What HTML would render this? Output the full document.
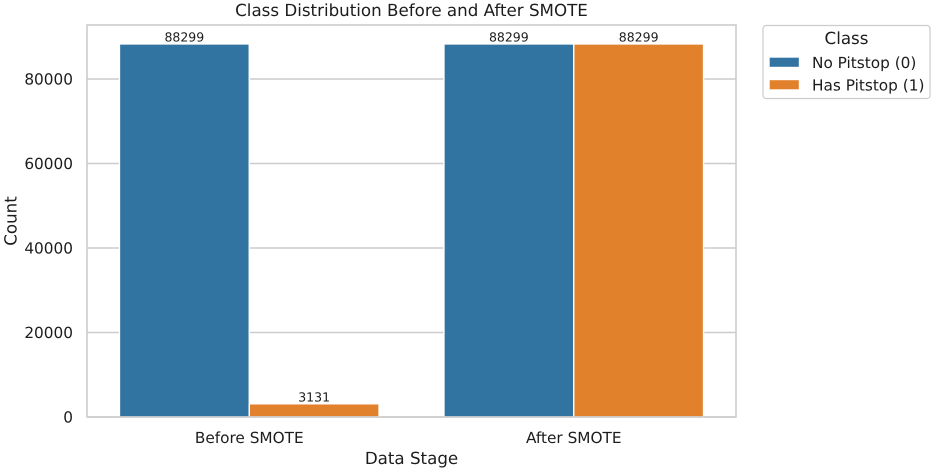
<!DOCTYPE html>
<html><head><meta charset="utf-8">
<style>
html,body{margin:0;padding:0;background:#fff;width:935px;height:471px;overflow:hidden}
svg{display:block}
text{font-family:"DejaVu Sans",sans-serif;fill:#1c1c1c;text-rendering:geometricPrecision}
</style></head>
<body>
<svg id="chart" xmlns="http://www.w3.org/2000/svg" width="935" height="471" viewBox="0 0 935 471"></svg>
<script>
const categories = ['Before SMOTE', 'After SMOTE'];
const seriesNames = ['No Pitstop (0)', 'Has Pitstop (1)'];
const noPitstop = [88299, 88299];
const hasPitstop = [3131, 88299];
const yTicks = [0, 20000, 40000, 60000, 80000];
const colors = ['#3274a1', '#e1812c'];

const svg = document.getElementById('chart');
const NS = 'http://www.w3.org/2000/svg';
const L = 87, R = 736, T = 25, B = 417;
const yScale = v => B - v * (338 / 80000);
const xScale = i => L + (i + 0.5) * (R - L) / categories.length;
const bandW = 129.8;

function add(tag, attrs, parent) {
  const e = document.createElementNS(NS, tag);
  for (const k in attrs) e.setAttribute(k, attrs[k]);
  (parent || svg).appendChild(e);
  return e;
}
function label(txt, attrs) {
  const e = add('text', attrs);
  e.textContent = txt;
  return e;
}

yTicks.forEach(t => {
  const g = add('line', {x1: L, x2: R, y1: yScale(t), y2: yScale(t), stroke: '#cccccc', 'stroke-width': 1.6});
  
  
  const l = label(String(t), {x: 73, y: yScale(t) + 5.6, 'text-anchor': 'end', 'font-size': 15.3});
  
  
});

[noPitstop, hasPitstop].forEach((series, s) => {
  series.forEach((v, i) => {
    const x = xScale(i) + (s === 0 ? -bandW : 0);
    const r = add('rect', {x: x, y: yScale(v), width: bandW, height: B - yScale(v), fill: colors[s], stroke: '#ffffff', 'stroke-width': 1.4});
    
    
    const l = label(String(v), {x: x + bandW / 2, y: yScale(v) - 2.5, 'text-anchor': 'middle', 'font-size': 12.5});
    
    
  });
});

const frame = add('rect', {x: L, y: T, width: R - L, height: B - T, fill: 'none', stroke: '#cccccc', 'stroke-width': 1.6});



categories.forEach((c, i) => {
  const l = label(c, {x: xScale(i), y: 443, 'text-anchor': 'middle', 'font-size': 15.3});
  
  
});

const title = label('Class Distribution Before and After SMOTE', {x: 411.5, y: 16, 'text-anchor': 'middle', 'font-size': 16.7});



const xTitle = label('Data Stage', {x: 411.5, y: 464, 'text-anchor': 'middle', 'font-size': 16.7});



const yTitle = label('Count', {x: 0, y: 0, 'text-anchor': 'middle', 'font-size': 16.7, transform: 'translate(16.5 221) rotate(-90)'});



const box = add('rect', {x: 763, y: 25.5, width: 167, height: 73, rx: 3, fill: '#fff', stroke: '#cccccc', 'stroke-width': 1.2});



const legTitle = label('Class', {x: 846.5, y: 44, 'text-anchor': 'middle', 'font-size': 16.7});



seriesNames.forEach((n, i) => {
  const y = 57.5 + i * 22.5;
  const sw = add('rect', {x: 769.5, y: y, width: 29.5, height: 9.5, fill: colors[i], stroke: '#ffffff', 'stroke-width': 0.4});
  
  
  const t = label(n, {x: 812, y: y + 10.5, 'font-size': 15.3});
  
  
});
</script>
</body></html>
